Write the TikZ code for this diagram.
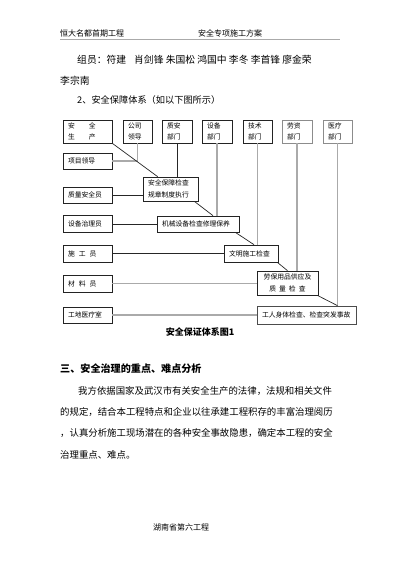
\documentclass[tikz,border=0pt]{standalone}
\usepackage{fontspec}
\setmainfont{Noto Sans CJK SC}
\usepackage{tikz}
\usetikzlibrary{calc}
\definecolor{linegray}{RGB}{170,170,170}
\definecolor{boxline}{RGB}{35,35,35}
\newcommand{\fsz}[1]{\fontsize{#1}{11.5}\selectfont}

\begin{document}
\begin{tikzpicture}[x=1pt,y=-1pt,
  txt/.style={anchor=west,inner sep=0pt},
  org/.style={draw=boxline,line width=0.7pt,inner xsep=5pt,inner ysep=0pt,align=left,font=\fsz{6.8}},
  grayline/.style={linegray,line width=1.1pt},
  darkline/.style={black!85,line width=0.7pt}]
\useasboundingbox (0,0) rectangle (400,566);
\node[txt,font=\fsz{8}] (hdleft) at (60,33) {恒大名都首期工程};
\node[txt,font=\fsz{8}] (hdright) at (198,33) {安全专项施工方案};
\draw[linegray,line width=1.3pt] (60,39.5) -- (340,39.5);
\node[txt,font=\fsz{9.8}] (members) at (77,60) {组员：符建\hspace{8pt}肖剑锋 朱国松 鸿国中 李冬 李首锋 廖金荣};
\node[txt,font=\fsz{9.8}] (members2) at (60,81) {李宗南};
\node[txt,font=\fsz{9.2}] (sec2) at (77,100) {2、安全保障体系（如以下图所示）};
\node[org,text width=39pt,minimum height=23pt] (anquan) at (87.5,131.5) {安\hspace{14pt}全\\生\hspace{14pt}产};
\node[org,text width=19pt,minimum height=23pt] (gongsi) at (137.5,131.5) {公司\\领导};
\node[org,text width=20pt,minimum height=23pt] (zhian) at (177,131.5) {质安\\部门};
\node[org,text width=20pt,minimum height=23pt] (shebei) at (217,131.5) {设备\\部门};
\node[org,text width=19pt,minimum height=23pt] (jishu) at (257.5,131.5) {技术\\部门};
\node[org,draw=black!45,text width=20pt,minimum height=23pt] (laozi) at (297,131.5) {劳资\\部门};
\node[org,draw=black!45,text width=19pt,minimum height=23pt] (yiliao) at (337.5,131.5) {医疗\\部门};
\node[org,text width=39pt,minimum height=16pt] (xmld) at (87.5,161) {项目领导};
\node[org,text width=39pt,minimum height=16pt] (zlaq) at (87.5,195) {质量安全员};
\node[org,text width=39pt,minimum height=17pt] (sbgl) at (87.5,224) {设备治理员};
\node[org,text width=39pt,minimum height=17pt] (sgy) at (87.5,253.5) {施\hspace{4pt}工\hspace{4pt}员};
\node[org,text width=39pt,minimum height=17pt] (cly) at (87.5,283.5) {材\hspace{4pt}料\hspace{4pt}员};
\node[org,text width=39pt,minimum height=16pt] (gdys) at (87.5,315) {工地医疗室};
\node[org,text width=45pt,minimum height=24pt] (aqbz) at (170.5,189) {安全保障检查\\规章制度执行};
\node[org,text width=72pt,minimum height=16pt] (jxsb) at (198,224) {机械设备检查修理保养};
\node[org,text width=44pt,minimum height=17pt] (wmsg) at (251,253.5) {文明施工检查};
\node[org,align=center,text width=51pt,minimum height=24pt] (lbyp) at (287.5,283) {劳保用品供应及\\质\hspace{3pt}量\hspace{3pt}检\hspace{3pt}查};
\node[org,draw=black!70,text width=89pt,minimum height=18pt] (grst) at (306.5,315) {工人身体检查、检查突发事故};
\draw[grayline] (xmld.east) -| (gongsi.south);
\draw[darkline] (zhian.south) -- (zhian.south |- aqbz.north);
\draw[grayline] (shebei.south) -- (shebei.south |- jxsb.north);
\draw[grayline] (jishu.south) -- (jishu.south |- wmsg.north);
\draw[grayline] (laozi.south) -- (laozi.south |- lbyp.north);
\draw[grayline] (yiliao.south) -- (yiliao.south |- grst.north);
\draw[darkline] (zlaq.east) -- (zlaq.east -| aqbz.west);
\draw[darkline] (sbgl.east) -- (sbgl.east -| jxsb.west);
\draw[darkline] (sgy.east) -- (sgy.east -| wmsg.west);
\draw[grayline] (cly.east) -- (cly.east -| lbyp.west);
\draw[grayline] (gdys.east) -- (gdys.east -| grst.west);
\draw[darkline] (anquan.south east) -- ($(aqbz.north west)+(15,0)$);
\draw[darkline] ($(aqbz.south east)+(-4,0)$) -- ($(jxsb.north)+(15,0)$);
\draw[darkline] ($(jxsb.south east)+(-4,0)$) -- ($(wmsg.north)+(3,0)$);
\draw[darkline] ($(wmsg.south east)+(-1,0)$) -- (lbyp.north);
\draw[darkline] ($(lbyp.south east)+(-1,0)$) -- ($(grst.north)+(31,0)$);
\node[font=\fsz{9}\bfseries,inner sep=0pt] (caption) at (200,332) {安全保证体系图1};
\node[txt,font=\fsz{10.1}\bfseries] (sec3) at (60,369) {三、安全治理的重点、难点分析};
\node[txt,font=\fsz{9.4}] (p1) at (78,391) {我方依据国家及武汉市有关安全生产的法律，法规和相关文件};
\node[txt,font=\fsz{9.4}] (p2) at (60,412) {的规定，结合本工程特点和企业以往承建工程积存的丰富治理阅历};
\node[txt,font=\fsz{9.4}] (p3) at (60,433) {，认真分析施工现场潜在的各种安全事故隐患，确定本工程的安全};
\node[txt,font=\fsz{9.4}] (p4) at (60,455) {治理重点、难点。};
\node[txt,font=\fsz{8}] (footer) at (153,527) {湖南省第六工程};
\end{tikzpicture}
\end{document}
